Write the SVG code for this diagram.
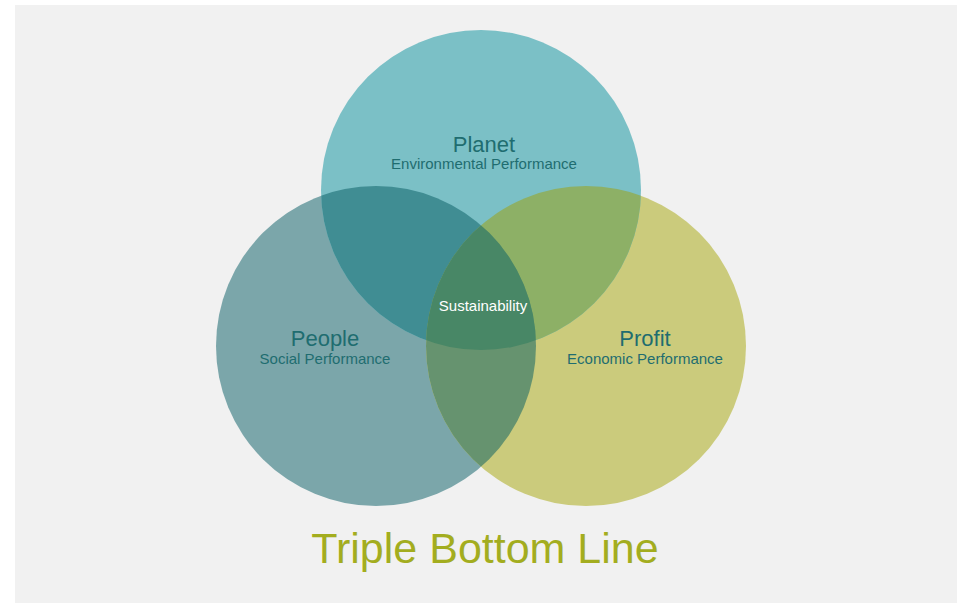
<svg xmlns="http://www.w3.org/2000/svg" width="957" height="603" viewBox="0 0 957 603">
  <defs>
    <clipPath id="cPlanet"><circle cx="481" cy="190" r="160"/></clipPath>
    <clipPath id="cPeople"><circle cx="376" cy="346" r="160"/></clipPath>
    <clipPath id="cProfit"><circle cx="586" cy="346" r="160"/></clipPath>
  </defs>
  <style>
    .lbl { font-family: "Liberation Sans", Arial, sans-serif; fill: #1f6d70; text-anchor: middle; }
    .big { font-size: 22px; }
    .sub { font-size: 15px; }
  </style>
  <rect x="0" y="0" width="957" height="603" fill="#ffffff"/>
  <rect x="15" y="5" width="942" height="598" fill="#f1f1f1"/>

  <g id="people"><circle cx="376" cy="346" r="160" fill="#7ba6aa"/></g>
  <g id="profit"><circle cx="586" cy="346" r="160" fill="#cbcb7c"/></g>
  <g id="planet"><circle cx="481" cy="190" r="160" fill="#7bc0c6"/></g>

  <g id="overlaps">
    <g clip-path="url(#cPlanet)"><circle cx="376" cy="346" r="160" fill="#408d93"/></g>
    <g clip-path="url(#cPlanet)"><circle cx="586" cy="346" r="160" fill="#8db066"/></g>
    <g clip-path="url(#cPeople)"><circle cx="586" cy="346" r="160" fill="#66936f"/></g>
    <g clip-path="url(#cPlanet)"><g clip-path="url(#cPeople)"><circle cx="586" cy="346" r="160" fill="#488766"/></g></g>
  </g>

  <g id="planet-label">
    <text class="lbl big" x="484" y="152">Planet</text>
    <text class="lbl sub" x="484" y="169">Environmental Performance</text>
  </g>
  <g id="people-label">
    <text class="lbl big" x="325" y="346">People</text>
    <text class="lbl sub" x="325" y="364">Social Performance</text>
  </g>
  <g id="profit-label">
    <text class="lbl big" x="645" y="346">Profit</text>
    <text class="lbl sub" x="645" y="364">Economic Performance</text>
  </g>
  <g id="sustainability-label">
    <text x="483" y="311" font-family="Liberation Sans, Arial, sans-serif" font-size="15" fill="#ffffff" text-anchor="middle">Sustainability</text>
  </g>
  <text x="485" y="563" font-family="Liberation Sans, Arial, sans-serif" font-size="43" fill="#a3ad1f" text-anchor="middle">Triple Bottom Line</text>
</svg>
